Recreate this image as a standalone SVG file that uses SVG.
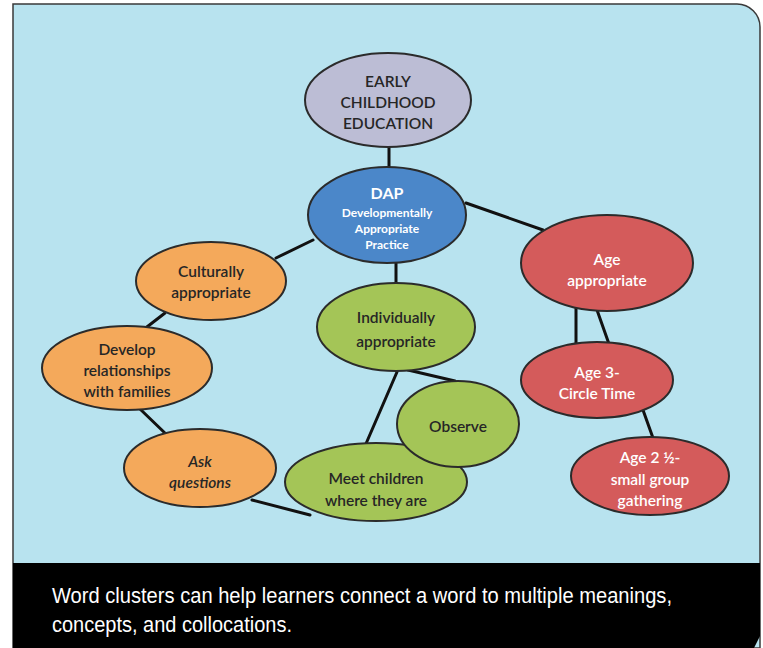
<svg xmlns="http://www.w3.org/2000/svg" width="763" height="648" viewBox="0 0 763 648">
<style>
.n{stroke:#2b2b2b;stroke-width:2}
.t{font-family:Lato,"Open Sans","Liberation Sans",sans-serif;font-size:15.5px;text-anchor:middle;fill:#262626;font-weight:600}
.w{fill:#ffffff}
.c line{stroke:#111;stroke-width:3;stroke-linecap:round}
.cap{font-family:"Liberation Sans",Arial,sans-serif;font-size:22px;fill:#ffffff}
</style>
<rect width="763" height="648" fill="#ffffff"/>
<path d="M13,648 L13,4 L737,4 A23,23 0 0 1 760,27 L760,648 Z" fill="#b8e3ef" stroke="#3a3a3a" stroke-width="1.5"/>
<path d="M13,563 L760,563 L760,636 L754,648 L13,648 Z" fill="#000000"/>
<text class="cap" x="52" y="603" textLength="620" lengthAdjust="spacingAndGlyphs">Word clusters can help learners connect a word to multiple meanings,</text>
<text class="cap" x="52" y="632" textLength="240" lengthAdjust="spacingAndGlyphs">concepts, and collocations.</text>
<g id="connectors" class="c">
<line x1="389" y1="147" x2="389" y2="168"/>
<line x1="396" y1="262" x2="396" y2="284"/>
<line x1="313" y1="240" x2="276" y2="258"/>
<line x1="466" y1="203" x2="543" y2="230"/>
<line x1="165" y1="313" x2="143" y2="330"/>
<line x1="140" y1="409" x2="167" y2="435"/>
<line x1="252" y1="500" x2="310" y2="515"/>
<line x1="397" y1="372" x2="365" y2="446"/>
<line x1="408" y1="370" x2="455" y2="381"/>
<line x1="576" y1="308" x2="576" y2="344"/>
<line x1="597" y1="310" x2="609" y2="344"/>
<line x1="643" y1="410" x2="653" y2="438"/>
</g>
<g id="early">
<ellipse class="n" cx="388" cy="100" rx="83" ry="47" fill="#bcbdd5"/>
<text class="t" x="388" y="87">EARLY</text>
<text class="t" x="388" y="108">CHILDHOOD</text>
<text class="t" x="388" y="129">EDUCATION</text>
</g>
<g id="dap">
<ellipse class="n" cx="387" cy="215" rx="79" ry="48" fill="#4b87c9"/>
<text class="t w" x="387" y="199" style="font-size:16px;font-weight:700">DAP</text>
<text class="t w" x="387" y="217" style="font-size:12px;font-weight:700">Developmentally</text>
<text class="t w" x="387" y="233" style="font-size:12px;font-weight:700">Appropriate</text>
<text class="t w" x="387" y="249" style="font-size:12px;font-weight:700">Practice</text>
</g>
<g id="culturally">
<ellipse class="n" cx="211" cy="281" rx="75" ry="39" fill="#f4a95b"/>
<text class="t" x="211" y="277">Culturally</text>
<text class="t" x="211" y="298">appropriate</text>
</g>
<g id="develop">
<ellipse class="n" cx="127" cy="368" rx="85" ry="42" fill="#f4a95b"/>
<text class="t" x="127" y="355">Develop</text>
<text class="t" x="127" y="376">relationships</text>
<text class="t" x="127" y="397">with families</text>
</g>
<g id="ask">
<ellipse class="n" cx="200" cy="468" rx="76" ry="39" fill="#f4a95b"/>
<text class="t" x="200" y="467" font-style="italic">Ask</text>
<text class="t" x="200" y="488" font-style="italic">questions</text>
</g>
<g id="individually">
<ellipse class="n" cx="396" cy="327" rx="79" ry="44" fill="#a4c557"/>
<text class="t" x="396" y="323">Individually</text>
<text class="t" x="396" y="347">appropriate</text>
</g>
<g id="meet">
<ellipse class="n" cx="376" cy="482" rx="91" ry="39" fill="#a4c557"/>
<text class="t" x="376" y="484">Meet children</text>
<text class="t" x="376" y="506">where they are</text>
</g>
<g id="observe">
<ellipse class="n" cx="458" cy="424" rx="61" ry="43" fill="#a4c557"/>
<text class="t" x="458" y="432">Observe</text>
</g>
<g id="age">
<ellipse class="n" cx="607" cy="263" rx="86" ry="48" fill="#d45b5b"/>
<text class="t w" x="607" y="265">Age</text>
<text class="t w" x="607" y="286">appropriate</text>
</g>
<g id="age3">
<ellipse class="n" cx="597" cy="380" rx="76" ry="38" fill="#d45b5b"/>
<text class="t w" x="597" y="378">Age 3-</text>
<text class="t w" x="597" y="399">Circle Time</text>
</g>
<g id="age2">
<ellipse class="n" cx="650" cy="476" rx="79" ry="39" fill="#d45b5b"/>
<text class="t w" x="650" y="463">Age 2 ½-</text>
<text class="t w" x="650" y="485">small group</text>
<text class="t w" x="650" y="506">gathering</text>
</g>
</svg>
